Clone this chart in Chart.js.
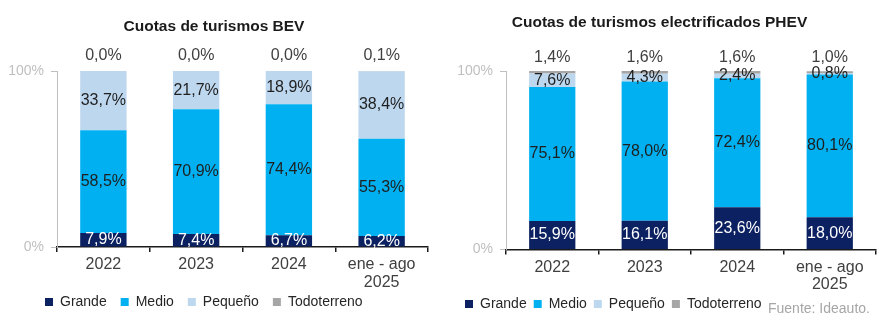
<!DOCTYPE html>
<html>
<head>
<meta charset="utf-8">
<script src="https://cdn.jsdelivr.net/npm/chart.js@4"></script>
<style>
  body { margin: 0; background: #fff; }
  .box { position: absolute; top: 0; width: 443px; height: 322px; }
  #fuente { position: absolute; left: 768px; top: 300px; font: 14px 'Liberation Sans', sans-serif; color: #a6a6a6; }
</style>
</head>
<body>
<div class="box" style="left:0"><canvas id="bev"></canvas></div>
<div class="box" style="left:443px"><canvas id="phev"></canvas></div>
<div id="fuente">Fuente: Ideauto.</div>
<script>
// categories and series names
const categories = ['2022', '2023', '2024', ['ene - ago', '2025']];
const seriesNames = ['Grande', 'Medio', 'Pequeño', 'Todoterreno'];
const yTicks = [0, 100];

// BEV shares (%)
const bevGrande = [7.9, 7.4, 6.7, 6.2];
const bevMedio = [58.5, 70.9, 74.4, 55.3];
const bevPequeno = [33.7, 21.7, 18.9, 38.4];
const bevTodoterreno = [0.0, 0.0, 0.0, 0.1];

// PHEV shares (%)
const phevGrande = [15.9, 16.1, 23.6, 18.0];
const phevMedio = [75.1, 78.0, 72.4, 80.1];
const phevPequeno = [7.6, 4.3, 2.4, 0.8];
const phevTodoterreno = [1.4, 1.6, 1.6, 1.0];

const colors = ['#0c2161', '#00b0f0', '#bdd7ee', '#a6a6a6'];
const FONT = "'Liberation Sans', Arial, sans-serif";

const fmt = v => v.toFixed(1).replace('.', ',') + '%';

// value labels inside the segments, Todoterreno above the bar
const labelPlugin = {
    id: 'labels',
    afterLayout(chart, args, opts) {
        // move the legend under the axis labels (it takes no room in the layout)
        const lg = chart.legend;
        const pad = chart.options.plugins.legend.labels.padding;
        lg.left = opts.legendX - pad;
        lg.right = chart.width;
        lg.top = opts.legendY - pad - 7;
        lg.bottom = chart.height;
        lg.height = lg.bottom - lg.top;
    },
    afterDatasetsDraw(chart, args, opts) {
        const ctx = chart.ctx;
        ctx.save();
        ctx.font = '16px ' + FONT;
        ctx.textAlign = 'center';
        ctx.textBaseline = 'middle';
        chart.data.datasets.forEach((ds, i) => {
            const meta = chart.getDatasetMeta(i);
            meta.data.forEach((bar, j) => {
                const v = ds.data[j];
                if (i === 3) {
                    ctx.fillStyle = '#404040';
                    ctx.fillText(fmt(v), bar.x, chart.chartArea.top - opts.topOffset);
                } else {
                    ctx.fillStyle = i === 0 ? '#ffffff' : '#1f1f1f';
                    ctx.fillText(fmt(v), bar.x, (bar.y + bar.base) / 2);
                }
            });
        });
        ctx.restore();
    }
};

function makeChart(id, title, series, lay) {
    const ctx = document.getElementById(id).getContext('2d');
    return new Chart(ctx, {
        type: 'bar',
        data: {
            labels: categories,
            datasets: series.map((data, i) => ({
                label: seriesNames[i],
                data,
                backgroundColor: colors[i],
                borderWidth: 0,
                barPercentage: 0.5,
                categoryPercentage: 1
            }))
        },
        options: {
            responsive: true,
            maintainAspectRatio: false,
            animation: false,
            layout: { padding: { left: 0, right: lay.right, top: 0, bottom: lay.bottom } },
            scales: {
                x: {
                    stacked: true,
                    afterFit: s => { s.height = 44; },
                    border: { color: '#1a1a1a', width: 1.5 },
                    grid: { offset: true, drawOnChartArea: false, tickLength: 5, color: '#1a1a1a', lineWidth: 1.5 },
                    ticks: { color: '#404040', padding: 4, maxRotation: 0, font: { family: FONT, size: 16, lineHeight: 1.1 } }
                },
                y: {
                    stacked: true,
                    min: 0,
                    max: 100,
                    afterFit: s => { s.width = lay.yWidth; },
                    afterBuildTicks: s => { s.ticks = yTicks.map(v => ({ value: v })); },
                    border: { color: '#bfbfbf' },
                    grid: { drawOnChartArea: false, tickLength: 6, color: '#bfbfbf' },
                    ticks: { color: '#bfbfbf', padding: 7, font: { family: FONT, size: 14 }, callback: v => v + '%' }
                }
            },
            plugins: {
                title: {
                    display: true,
                    text: title,
                    color: '#1a1a1a',
                    font: { family: FONT, size: 15.5, weight: 'bold' },
                    padding: { top: lay.titleTop, bottom: lay.titleBottom }
                },
                legend: {
                    position: 'bottom',
                    align: 'start',
                    maxHeight: 1,
                    labels: { boxWidth: 8, boxHeight: 8, padding: lay.legendPad, color: '#262626', font: { family: FONT, size: 14 } }
                },
                tooltip: { enabled: false },
                labels: { topOffset: lay.topOffset, legendX: lay.legendX, legendY: lay.legendY }
            }
        },
        plugins: [labelPlugin]
    });
}

makeChart('bev', 'Cuotas de turismos BEV',
    [bevGrande, bevMedio, bevPequeno, bevTodoterreno],
    { right: 15, bottom: 30, yWidth: 57, titleTop: 17, titleBottom: 35.4, topOffset: 15,
      legendX: 45, legendY: 302, legendPad: 14 });

makeChart('phev', 'Cuotas de turismos electrificados PHEV',
    [phevGrande, phevMedio, phevPequeno, phevTodoterreno],
    { right: 10, bottom: 27.5, yWidth: 63, titleTop: 13.5, titleBottom: 38.9, topOffset: 13,
      legendX: 22, legendY: 304, legendPad: 7 });
</script>
</body>
</html>
